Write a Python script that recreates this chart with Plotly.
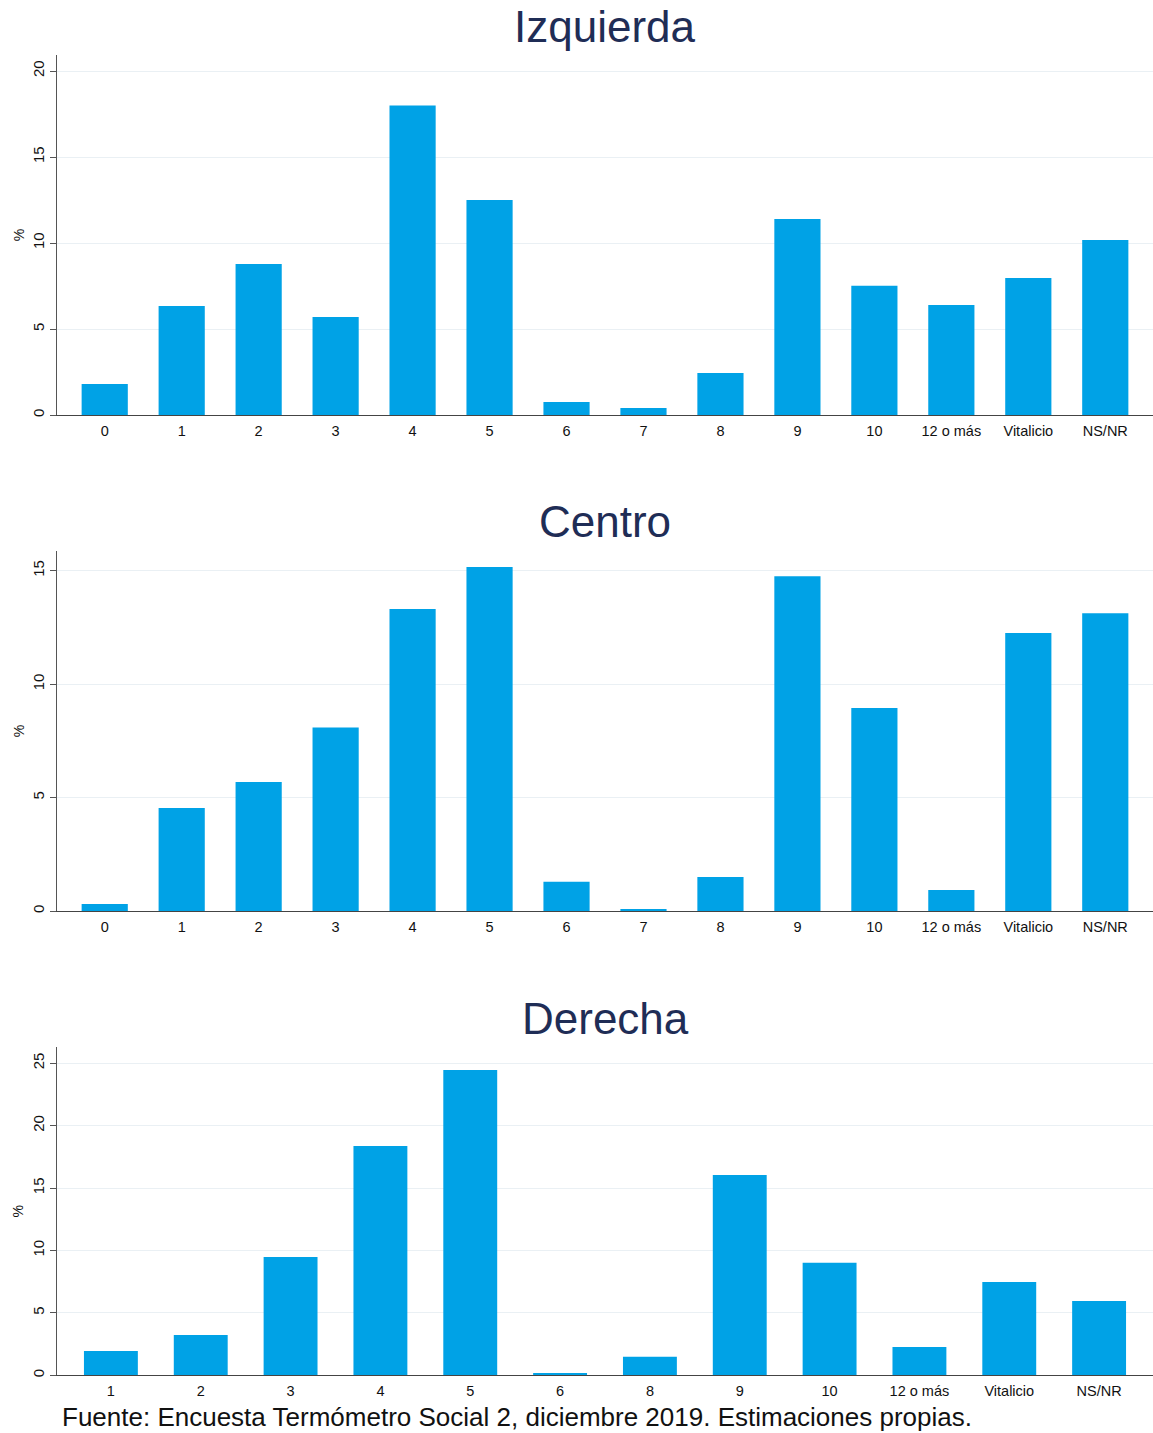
import plotly.graph_objects as go

cats_izq = ["0", "1", "2", "3", "4", "5", "6", "7", "8", "9", "10", "12 o más", "Vitalicio", "NS/NR"]
vals_izq = [1.8, 6.34, 8.78, 5.7, 18.0, 12.5, 0.76, 0.41, 2.44, 11.4, 7.52, 6.4, 7.96, 10.17]

cats_cen = ["0", "1", "2", "3", "4", "5", "6", "7", "8", "9", "10", "12 o más", "Vitalicio", "NS/NR"]
vals_cen = [0.31, 4.54, 5.69, 8.09, 13.31, 15.16, 1.29, 0.06, 1.5, 14.76, 8.95, 0.93, 12.25, 13.13]

cats_der = ["1", "2", "3", "4", "5", "6", "8", "9", "10", "12 o más", "Vitalicio", "NS/NR"]
vals_der = [1.95, 3.23, 9.48, 18.37, 24.46, 0.19, 1.49, 16.05, 9.02, 2.27, 7.48, 5.95]

titles = ["Izquierda", "Centro", "Derecha"]
footnote = "Fuente: Encuesta Termómetro Social 2, diciembre 2019. Estimaciones propias."

W, H = 1153, 1433
BAR = "#00a2e6"
FONT = "Arial, Liberation Sans, sans-serif"

# pixel layout of plot areas (top, bottom)
panels = [
    (cats_izq, vals_izq, 55, 415, [0, 20.93], [0, 5, 10, 15, 20], 0.62),
    (cats_cen, vals_cen, 551, 911, [0, 15.87], [0, 5, 10, 15], 0.62),
    (cats_der, vals_der, 1047, 1375.3, [0, 26.3], [0, 5, 10, 15, 20, 25], 0.6),
]
title_y = [27, 522, 1018]

fig = go.Figure()
for i, (cats, vals, top, bot, yr, tv, pad) in enumerate(panels):
    n = i + 1
    xa = "x" if n == 1 else f"x{n}"
    ya = "y" if n == 1 else f"y{n}"
    fig.add_trace(go.Bar(x=cats, y=vals, marker=dict(color=BAR, line=dict(width=0)),
                         width=0.6, xaxis=xa, yaxis=ya, showlegend=False))
    xk = "xaxis" if n == 1 else f"xaxis{n}"
    yk = "yaxis" if n == 1 else f"yaxis{n}"
    fig.layout[xk] = dict(domain=[0, 1], anchor=ya, type="category",
                          range=[-pad, len(cats) - 1 + pad],
                          showline=True, linecolor="#444444", linewidth=1.2,
                          ticks="", showgrid=False, zeroline=False, automargin=False,
                          ticklabelstandoff=2,
                          tickfont=dict(family=FONT, size=14.5, color="#111111"))
    fig.layout[yk] = dict(domain=[1 - bot / H, 1 - top / H], anchor=xa,
                          range=yr, tickvals=tv, tickangle=-90,
                          showline=True, linecolor="#555555", linewidth=1.2,
                          ticks="outside", ticklen=6, tickcolor="#555555",
                          showgrid=True, gridcolor="#eaf0f4", gridwidth=1,
                          zeroline=False, automargin=False,
                          tickfont=dict(family=FONT, size=15, color="#111111"),
                          title=dict(text="%", font=dict(family=FONT, size=14, color="#111111"),
                                     standoff=2))
    fig.add_annotation(text=titles[i], xref="paper", yref="paper", x=0.5,
                       y=1 - title_y[i] / H, xanchor="center", yanchor="middle",
                       showarrow=False, font=dict(family=FONT, size=44, color="#1f2d56"))

fig.add_annotation(text=footnote, xref="paper", yref="paper", x=(60 - 57) / (W - 57),
                   y=1 - 1417 / H, xanchor="left", yanchor="middle", showarrow=False,
                   font=dict(family=FONT, size=26, color="#111111"))

fig.update_layout(width=W, height=H, margin=dict(l=57, r=0, t=0, b=0),
                  plot_bgcolor="white", paper_bgcolor="white", bargap=0.4)
fig.write_html("out.html", config={"displayModeBar": False},
               post_script="document.body.style.margin='0px';")
